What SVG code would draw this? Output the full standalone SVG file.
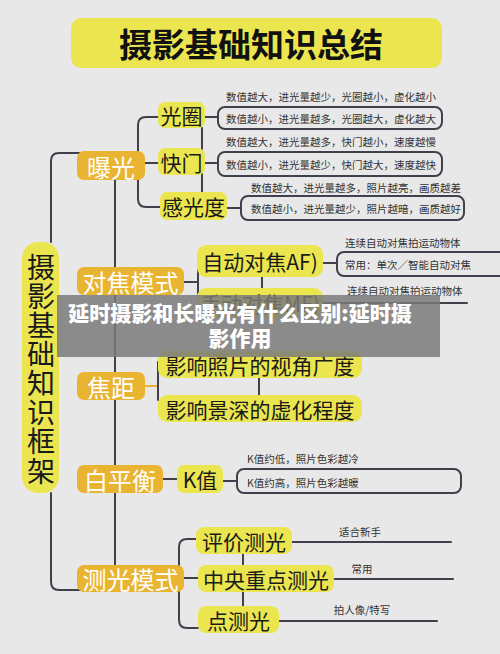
<svg xmlns="http://www.w3.org/2000/svg" width="500" height="654" viewBox="0 0 500 654">
<style>
text{font-family:"Noto Sans CJK SC","Noto Sans",sans-serif;dominant-baseline:central}
.y{fill:#ebe650}
.o{fill:#e9b431}
.ty{font-size:21px;fill:#1a1a1a;text-anchor:middle}
.to{font-size:24px;fill:#ffffff;text-anchor:middle}
.s{font-size:10.5px;fill:#333333}
.sc{font-size:10.5px;fill:#333333;text-anchor:middle}
.ln{fill:none;stroke:#41414d;stroke-width:2;stroke-linecap:round}
.bx{fill:none;stroke:#41414d;stroke-width:2}
</style>
<rect width="500" height="654" fill="#e8e8e8"/>
<g id="title">
<rect x="71" y="18" width="371" height="50" rx="10" class="y"/>
<text x="251" y="43" font-size="33" font-weight="bold" fill="#111" text-anchor="middle">摄影基础知识总结</text>
</g>
<g id="connectors">
<path class="ln" d="M51,242 V161 Q51,153 59,153 H80"/>
<path class="ln" d="M51,493 V582 Q51,590 59,590 H80"/>
<path class="ln" d="M115,180 V565"/>
<path class="ln" d="M158,117 H146 Q138,117 138,125 V199 Q138,207 146,207 H160"/>
<path class="ln" d="M145,163 H158"/>
<path class="ln" d="M202,128 V192"/>
<path class="ln" d="M205,117 H218"/>
<path class="ln" d="M205,163 H218"/>
<path class="ln" d="M227,208 H241"/>
<path class="ln" d="M184,282 H198 M198,262 V304"/>
<path class="ln" d="M262,277 V288"/>
<path class="ln" d="M323,263 H337"/>
<path class="ln" d="M323,303 H467"/>
<path d="M145,386 H159" fill="none" stroke="#e9b431" stroke-width="2"/>
<path class="ln" d="M158,362 V400"/>
<path class="ln" d="M259,378 V395"/>
<path class="ln" d="M163,479 H177"/>
<path class="ln" d="M223,481 H237"/>
<path class="ln" d="M196,539 H187 Q179,539 179,547 V620 Q179,628 187,628 H198"/>
<path class="ln" d="M184,578 H198"/>
<path class="ln" d="M243,554 V565 M243,592 V606"/>
<path class="ln" d="M292,542 H451"/>
<path class="ln" d="M334,579 H453"/>
<path class="ln" d="M279,621 H437"/>
<rect class="bx" x="218" y="107" width="224" height="22" rx="7"/>
<rect class="bx" x="218" y="152" width="224" height="24" rx="7"/>
<rect class="bx" x="241" y="196" width="223" height="24" rx="7"/>
<rect class="bx" x="337" y="252" width="175" height="24" rx="7"/>
<rect class="bx" x="237" y="469" width="224" height="24" rx="7"/>
</g>
<g id="root">
<rect x="22" y="242" width="37" height="251" rx="16" class="y"/>
<text font-size="28" fill="#1a1a1a" text-anchor="middle"><tspan x="41" y="266">摄</tspan><tspan x="41" y="295">影</tspan><tspan x="41" y="324">基</tspan><tspan x="41" y="353">础</tspan><tspan x="41" y="382">知</tspan><tspan x="41" y="411">识</tspan><tspan x="41" y="440">框</tspan><tspan x="41" y="470">架</tspan></text>
</g>
<g id="n-exposure"><rect x="77" y="151" width="68" height="29" rx="7" class="o"/><text x="111" y="166" class="to">曝光</text></g>
<g id="n-focusmode"><rect x="77" y="267" width="107" height="28" rx="7" class="o"/><text x="130.5" y="281" class="to">对焦模式</text></g>
<g id="n-focal"><rect x="77" y="372" width="68" height="28" rx="7" class="o"/><text x="111" y="386" class="to">焦距</text></g>
<g id="n-wb"><rect x="77" y="465" width="86" height="28" rx="7" class="o"/><text x="120" y="479" class="to">白平衡</text></g>
<g id="n-metering"><rect x="77" y="565" width="107" height="27" rx="7" class="o"/><text x="130.5" y="578.5" class="to">测光模式</text></g>
<g id="n-aperture"><rect x="158" y="102" width="47" height="26" rx="7" class="y"/><text x="181.5" y="115" class="ty">光圈</text>
<text x="226" y="96" class="s">数值越大，进光量越少，光圈越小，虚化越小</text>
<text x="226" y="118" class="s">数值越小，进光量越多，光圈越大，虚化越大</text></g>
<g id="n-shutter"><rect x="158" y="148" width="47" height="27" rx="7" class="y"/><text x="181.5" y="161.5" class="ty">快门</text>
<text x="226" y="141" class="s">数值越大，进光量越多，快门越小，速度越慢</text>
<text x="226" y="164" class="s">数值越小，进光量越少，快门越大，速度越快</text></g>
<g id="n-iso"><rect x="160" y="192" width="67" height="28" rx="7" class="y"/><text x="193.5" y="206" class="ty">感光度</text>
<text x="251" y="187" class="s">数值越大，进光量越多，照片越亮，画质越差</text>
<text x="251" y="208" class="s">数值越小，进光量越少，照片越暗，画质越好</text></g>
<g id="n-af"><rect x="197" y="245" width="126" height="32" rx="9" class="y"/><text x="260" y="261" class="ty">自动对焦AF)</text>
<text x="345" y="242" class="s">连续自动对焦拍运动物体</text>
<text x="345" y="264" class="s">常用：单次／智能自动对焦</text></g>
<g id="n-mf"><rect x="197" y="288" width="126" height="30" rx="9" class="y"/><text x="260" y="303" class="ty">手动对焦MF)</text>
<text x="347" y="290" class="s">连续自动对焦拍运动物体</text></g>
<g id="n-angle"><rect x="158" y="351" width="204" height="27" rx="9" class="y"/><text x="260" y="365" class="ty">影响照片的视角广度</text></g>
<g id="n-dof"><rect x="158" y="395" width="204" height="27" rx="9" class="y"/><text x="260" y="408.5" class="ty">影响景深的虚化程度</text></g>
<g id="n-k"><rect x="177" y="465" width="46" height="28" rx="7" class="y"/><text x="200" y="479" class="ty">K值</text>
<text x="247" y="458" class="s">K值约低，照片色彩越冷</text>
<text x="247" y="482" class="s">K值约高，照片色彩越暖</text></g>
<g id="n-eval"><rect x="196" y="527" width="96" height="27" rx="8" class="y"/><text x="244" y="540.5" class="ty">评价测光</text>
<text x="360" y="531" class="sc">适合新手</text></g>
<g id="n-center"><rect x="198" y="565" width="136" height="27" rx="8" class="y"/><text x="266" y="578.5" class="ty">中央重点测光</text>
<text x="362" y="568" class="sc">常用</text></g>
<g id="n-spot"><rect x="198" y="606" width="81" height="27" rx="8" class="y"/><text x="238.5" y="619.5" class="ty">点测光</text>
<text x="362" y="609" class="sc">拍人像/特写</text></g>
<g id="banner">
<rect x="57" y="295" width="383" height="62" fill="#7a7a7a" opacity="0.85"/>
<text x="240" y="312" font-size="21" font-weight="900" fill="#ffffff" text-anchor="middle">延时摄影和长曝光有什么区别:延时摄</text>
<text x="240" y="337" font-size="21" font-weight="900" fill="#ffffff" text-anchor="middle">影作用</text>
</g>
</svg>
